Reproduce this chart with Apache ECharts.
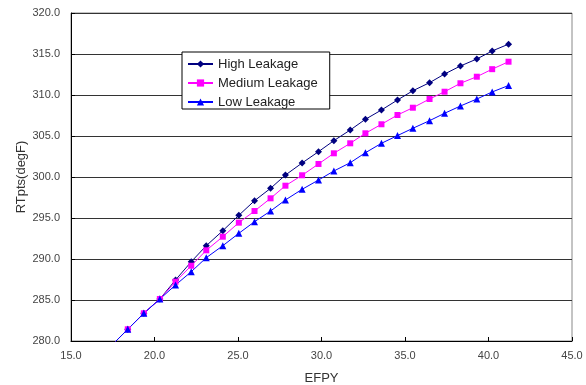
<!DOCTYPE html>
<html>
<head>
<meta charset="utf-8">
<script src="https://cdn.jsdelivr.net/npm/echarts@6/dist/echarts.min.js"></script>
<style>
html,body{margin:0;padding:0;background:#fff;}
#chart{width:586px;height:385px;}
</style>
</head>
<body>
<div id="chart"></div>
<script>
var efpy = [17.45, 18.40, 19.36, 20.32, 21.26, 22.20, 23.10, 24.09, 25.05, 25.99, 26.95, 27.84, 28.84, 29.82, 30.74, 31.72, 32.63, 33.59, 34.55, 35.47, 36.47, 37.37, 38.32, 39.30, 40.22, 41.20];
var highLeak = [279.5, 281.43, 283.38, 285.12, 287.44, 289.67, 291.62, 293.45, 295.33, 297.11, 298.62, 300.24, 301.71, 303.09, 304.43, 305.73, 307.04, 308.17, 309.39, 310.52, 311.50, 312.56, 313.54, 314.39, 315.37, 316.20];
var medLeak = [279.5, 281.43, 283.38, 285.12, 287.23, 289.18, 291.06, 292.72, 294.43, 295.85, 297.40, 298.94, 300.21, 301.59, 302.89, 304.11, 305.33, 306.43, 307.56, 308.45, 309.51, 310.40, 311.43, 312.23, 313.15, 314.06];
var lowLeak = [279.5, 281.43, 283.38, 285.12, 286.83, 288.45, 290.16, 291.62, 293.13, 294.55, 295.85, 297.20, 298.50, 299.63, 300.73, 301.74, 302.96, 304.11, 305.05, 305.94, 306.87, 307.77, 308.66, 309.51, 310.37, 311.16];
var seriesNames = ['High Leakage', 'Medium Leakage', 'Low Leakage'];
var xTicks = {min: 15, max: 45, interval: 5};
var yTicks = {min: 280, max: 320, interval: 5};

function pairs(ys){ return efpy.map(function(x,i){ return [x, ys[i]]; }); }

var chart = echarts.init(document.getElementById('chart'), null, {renderer:'canvas'});
var fontFam = '"Liberation Sans", Arial, sans-serif';
chart.setOption({
  animation: false,
  backgroundColor: '#fff',
  grid: {left: 71, right: 14, top: 13, bottom: 44, show: true, borderColor: '#888', borderWidth: 1, backgroundColor: 'transparent', outerBoundsMode: 'none', containLabel: false},
  legend: {
    orient: 'vertical', left: 182, top: 52,
    data: seriesNames,
    backgroundColor: '#fff', borderColor: '#000', borderWidth: 1,
    padding: [5, 12, 0, 5],
    itemWidth: 25, itemHeight: 9, itemGap: 5,
    textStyle: {fontFamily: fontFam, fontSize: 13, color: '#222', lineHeight: 14}
  },
  xAxis: {
    type: 'value', min: xTicks.min, max: xTicks.max, interval: xTicks.interval,
    name: 'EFPY', nameLocation: 'middle', nameGap: 31, nameMoveOverlap: false,
    nameTextStyle: {fontFamily: fontFam, fontSize: 13, color: '#333'},
    axisLine: {lineStyle: {color: '#000', width: 1}},
    axisTick: {inside: true, length: 4, lineStyle: {color: '#000'}},
    axisLabel: {fontFamily: fontFam, fontSize: 11, color: '#444', margin: 9,
      formatter: function(v){ return v.toFixed(1); }},
    splitLine: {show: false}
  },
  yAxis: {
    type: 'value', min: yTicks.min, max: yTicks.max, interval: yTicks.interval,
    name: 'RTpts(degF)', nameLocation: 'middle', nameGap: 43, nameRotate: 90, nameMoveOverlap: false,
    nameTextStyle: {fontFamily: fontFam, fontSize: 13, color: '#333'},
    axisLine: {show: true, lineStyle: {color: '#000', width: 1}},
    axisTick: {show: true, inside: true, length: 4, lineStyle: {color: '#000'}},
    axisLabel: {fontFamily: fontFam, fontSize: 11, color: '#444', margin: 11,
      formatter: function(v){ return v.toFixed(1); }},
    splitLine: {show: true, lineStyle: {color: '#333', width: 1}}
  },
  series: [
    {name: seriesNames[0], type: 'line', data: pairs(highLeak), clip: true,
     symbol: 'diamond', symbolSize: 7, showAllSymbol: true,
     itemStyle: {color: '#000080'}, lineStyle: {color: '#000080', width: 1}},
    {name: seriesNames[1], type: 'line', data: pairs(medLeak), clip: true,
     symbol: 'rect', symbolSize: 6, showAllSymbol: true,
     itemStyle: {color: '#ff00ff'}, lineStyle: {color: '#ff00ff', width: 1}},
    {name: seriesNames[2], type: 'line', data: pairs(lowLeak), clip: true,
     symbol: 'triangle', symbolSize: 7, showAllSymbol: true,
     itemStyle: {color: '#0000ff'}, lineStyle: {color: '#0000ff', width: 1}}
  ]
});
</script>
</body>
</html>
